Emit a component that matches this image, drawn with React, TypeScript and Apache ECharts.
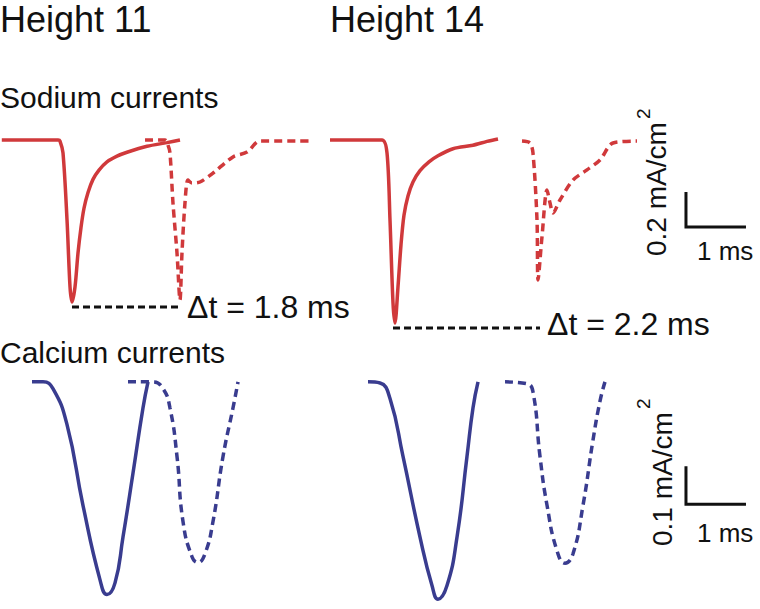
import React, { useEffect, useRef } from "react";
import * as echarts from "echarts";

// time in ms, current in mA/cm^2
const NA_H11_SOLID: [number, number][] = [
  [0.03, 0], [0.97, 0], [1.0, -0.006], [1.05, -0.074], [1.117, -0.457], [1.167, -0.84], [1.2, -0.926],
  [1.25, -0.84], [1.3, -0.646], [1.35, -0.5], [1.4, -0.39], [1.467, -0.3], [1.55, -0.225], [1.65, -0.172],
  [1.783, -0.125], [1.95, -0.092], [2.117, -0.07], [2.45, -0.036], [2.783, -0.015], [3.0, 0],
];
const NA_H11_DASH: [number, number][] = [
  [2.417, 0], [2.75, 0], [2.8, -0.029], [2.833, -0.074], [2.883, -0.36], [2.95, -0.646], [3.0, -0.914],
  [3.033, -0.646], [3.083, -0.36], [3.133, -0.229], [3.2, -0.246], [3.333, -0.24], [3.55, -0.189],
  [3.883, -0.097], [4.117, -0.069], [4.333, -0.006], [5.217, -0.006],
];
const NA_H14_SOLID: [number, number][] = [
  [5.5, 0], [6.367, 0], [6.45, -0.074], [6.5, -0.457], [6.55, -0.931], [6.583, -1.046], [6.633, -0.84],
  [6.683, -0.6], [6.733, -0.43], [6.8, -0.32], [6.883, -0.24], [7.0, -0.175], [7.15, -0.125],
  [7.3, -0.09], [7.55, -0.05], [7.883, -0.03], [8.117, -0.008], [8.3, 0.006],
];
const NA_H14_DASH: [number, number][] = [
  [8.7, -0.006], [8.833, -0.017], [8.883, -0.074], [8.95, -0.457], [8.967, -0.8], [9.033, -0.554],
  [9.117, -0.286], [9.167, -0.36], [9.217, -0.417], [9.333, -0.343], [9.55, -0.229], [9.783, -0.171],
  [10.0, -0.114], [10.217, -0.017], [10.617, -0.006],
];
const CA_H11_SOLID: [number, number][] = [
  [0.533, 0], [0.717, 0], [0.883, -0.018], [1.117, -0.113], [1.383, -0.326], [1.667, -0.523],
  [1.783, -0.562], [1.917, -0.531], [2.05, -0.41], [2.217, -0.241], [2.383, -0.069], [2.467, 0],
];
const CA_H11_DASH: [number, number][] = [
  [2.133, 0], [2.55, 0], [2.717, -0.018], [2.833, -0.069], [2.95, -0.197], [3.05, -0.369], [3.2, -0.462],
  [3.3, -0.477], [3.417, -0.454], [3.55, -0.369], [3.717, -0.197], [3.883, -0.069], [3.967, 0],
];
const CA_H14_SOLID: [number, number][] = [
  [6.133, 0], [6.333, -0.003], [6.5, -0.044], [6.717, -0.197], [7.0, -0.41], [7.2, -0.538], [7.3, -0.574],
  [7.45, -0.538], [7.617, -0.41], [7.783, -0.197], [7.883, -0.069], [7.967, 0],
];
const CA_H14_DASH: [number, number][] = [
  [8.417, 0], [8.783, -0.005], [8.883, -0.026], [9.0, -0.197], [9.117, -0.326], [9.283, -0.446],
  [9.417, -0.479], [9.55, -0.454], [9.717, -0.326], [9.883, -0.154], [10.0, -0.051], [10.083, 0],
];

// delta-t markers: [start ms, end ms, level mA/cm^2]
const DT_H11: [number, number, number] = [1.2, 3.0, -0.954];
const DT_H14: [number, number, number] = [6.55, 9.0, -1.074];
const DT_LABELS = ["Δt = 1.8 ms", "Δt = 2.2 ms"];

// scale bars
const SCALE_T = 1; // ms
const SCALE_NA = 0.2;
const SCALE_CA = 0.1;
const SCALE_NA_ORIGIN: [number, number] = [11.433, -0.497];
const SCALE_CA_ORIGIN: [number, number] = [11.433, -0.323];

const TITLES = ["Height 11", "Height 14"];
const ROW_LABELS = ["Sodium currents", "Calcium currents"];

const RED = "#d0393b";
const BLUE = "#393c8f";
const FONT = "Liberation Sans, Arial, Helvetica, sans-serif";

function line(name: string, data: [number, number][], grid: number, color: string, dashed: boolean, width = 3.5, smooth: number | boolean = 0.3): any {
  return {
    type: "line",
    name,
    xAxisIndex: grid,
    yAxisIndex: grid,
    data,
    symbol: "none",
    smooth,
    clip: false,
    lineStyle: { color, width, type: dashed ? [8, 5] : "solid", cap: "butt" },
    silent: true,
  };
}

export default function App() {
  const ref = useRef<HTMLDivElement>(null);
  useEffect(() => {
    if (!ref.current) return;
    const chart = echarts.init(ref.current, null, { renderer: "svg" });
    const dtSeries = (d: [number, number, number], label: string, offset: number[]) => ({
      type: "line",
      xAxisIndex: 0,
      yAxisIndex: 0,
      data: [[d[0], d[2]], [d[1], d[2]]],
      symbol: "none",
      clip: false,
      lineStyle: { color: "#111", width: 3, type: [7, 4] },
      endLabel: {
        show: true,
        formatter: label,
        distance: 7,
        offset,
        fontSize: 32,
        fontFamily: FONT,
        color: "#111",
      },
      silent: true,
    });
    const scaleBar = (grid: number, o: [number, number], h: number) => ({
      type: "line",
      xAxisIndex: grid,
      yAxisIndex: grid,
      data: [[o[0], o[1] + h], [o[0], o[1]], [o[0] + SCALE_T, o[1]]],
      symbol: "none",
      clip: false,
      lineStyle: { color: "#111", width: 3, join: "miter" },
      silent: true,
    });
    const txt = (text: string, x: number, y: number, size: number, extra: any = {}) => ({
      type: "text",
      x,
      y,
      ...extra,
      style: {
        text,
        fontSize: size,
        fontFamily: FONT,
        fill: "#111",
        align: "left",
        verticalAlign: "middle",
        textAlign: "left",
        textVerticalAlign: "middle",
      },
    });
    chart.setOption({
      animation: false,
      backgroundColor: "#ffffff",
      grid: [
        { left: 0, top: 105, width: 750, height: 245 },
        { left: 0, top: 344, width: 750, height: 273 },
      ],
      xAxis: [
        { type: "value", gridIndex: 0, min: 0, max: 12.5, show: false },
        { type: "value", gridIndex: 1, min: 0, max: 12.5, show: false },
      ],
      yAxis: [
        { type: "value", gridIndex: 0, min: -1.2, max: 0.2, show: false },
        { type: "value", gridIndex: 1, min: -0.6, max: 0.1, show: false },
      ],
      series: [
        line("Na H11", NA_H11_SOLID, 0, RED, false),
        line("Na H11 dashed", NA_H11_DASH, 0, RED, true),
        line("Na H14", NA_H14_SOLID, 0, RED, false),
        line("Na H14 dashed", NA_H14_DASH, 0, RED, true),
        line("Ca H11", CA_H11_SOLID, 1, BLUE, false, 3.5, 0.5),
        line("Ca H11 dashed", CA_H11_DASH, 1, BLUE, true, 3.5, 0.5),
        line("Ca H14", CA_H14_SOLID, 1, BLUE, false, 3.5, 0.5),
        line("Ca H14 dashed", CA_H14_DASH, 1, BLUE, true, 3.5, 0.5),
        dtSeries(DT_H11, DT_LABELS[0], [0, 0]),
        dtSeries(DT_H14, DT_LABELS[1], [0, -4]),
        scaleBar(0, SCALE_NA_ORIGIN, SCALE_NA),
        scaleBar(1, SCALE_CA_ORIGIN, SCALE_CA),
      ],
      graphic: [
        txt(TITLES[0], 0, 19, 36),
        txt(TITLES[1], 330, 19, 36),
        txt(ROW_LABELS[0], 0, 97, 30),
        txt(ROW_LABELS[1], 0, 352, 30),
        txt("1 ms", 697, 251, 26),
        txt("1 ms", 697, 533, 26),
        txt("0.2 mA/cm", 656, 256, 28, { rotation: Math.PI / 2 }),
        txt("2", 643, 119, 19, { rotation: Math.PI / 2 }),
        txt("0.1 mA/cm", 662, 546, 28, { rotation: Math.PI / 2 }),
        txt("2", 643, 409, 19, { rotation: Math.PI / 2 }),
      ],
    });
    return () => chart.dispose();
  }, []);
  return <div ref={ref} style={{ position: "fixed", left: 0, top: 0, width: 760, height: 609 }} />;
}
